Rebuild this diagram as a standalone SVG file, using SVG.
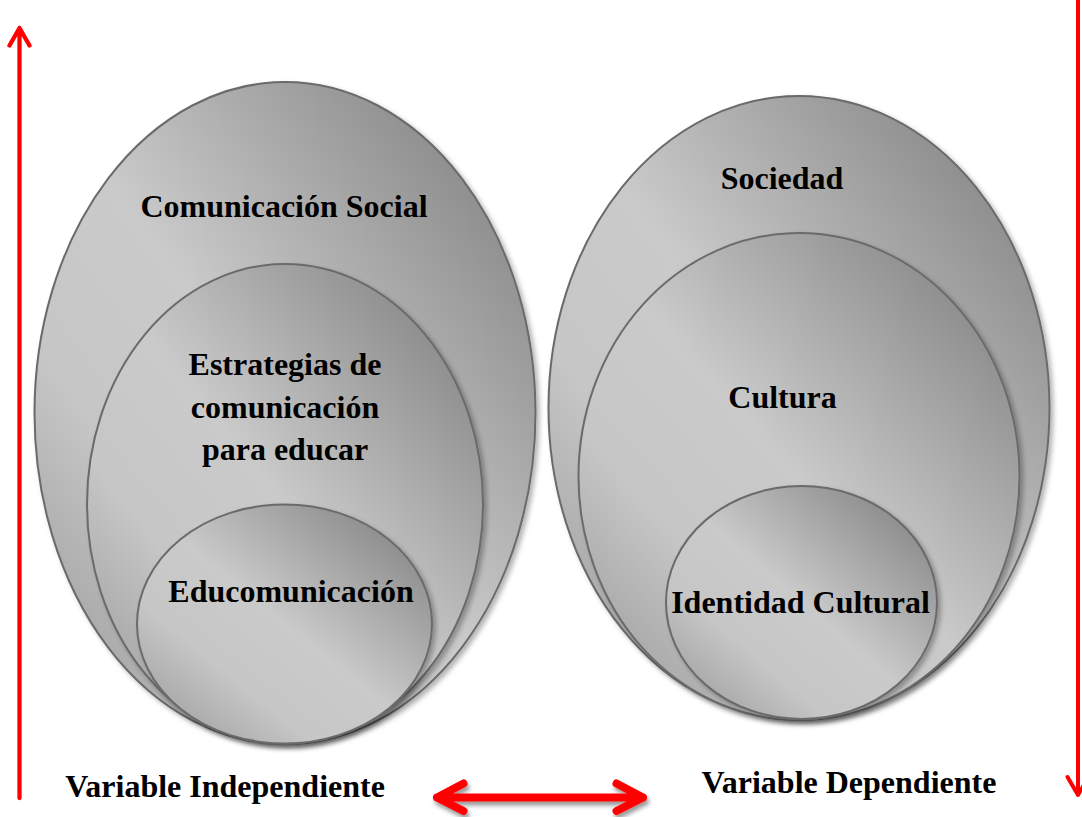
<svg xmlns="http://www.w3.org/2000/svg" width="1082" height="817" viewBox="0 0 1082 817">
<defs>
<linearGradient id="g" x1="0" y1="1" x2="1" y2="0">
<stop offset="0" stop-color="#949494"/>
<stop offset="0.3" stop-color="#c6c6c6"/>
<stop offset="0.5" stop-color="#cacaca"/>
<stop offset="1" stop-color="#787878"/>
</linearGradient>
<filter id="sh" x="-10%" y="-10%" width="125%" height="125%">
<feDropShadow dx="3" dy="3" stdDeviation="2.5" flood-color="#000" flood-opacity="0.3"/>
</filter>
<filter id="ash" x="-10%" y="-100%" width="120%" height="300%">
<feDropShadow dx="2" dy="4" stdDeviation="2" flood-color="#000" flood-opacity="0.4"/>
</filter>
</defs>
<style>
.e{fill:url(#g);stroke:#6b6b6b;stroke-width:2;filter:url(#sh)}
.t{font-family:"Liberation Serif","Times New Roman",serif;font-weight:bold;font-size:32px;fill:#000;text-anchor:middle}
.r{fill:none;stroke:#ff0000;stroke-linecap:round;stroke-linejoin:round}
</style>
<g id="left-set">
<g id="comunicacion-social">
<ellipse class="e" cx="285" cy="413" rx="250.5" ry="331"/>
<text class="t" x="284" y="217">Comunicación Social</text>
</g>
<g id="estrategias">
<ellipse class="e" cx="285" cy="504" rx="198" ry="240"/>
<text class="t" x="285" y="375">Estrategias de</text>
<text class="t" x="285" y="418">comunicación</text>
<text class="t" x="285" y="460">para educar</text>
</g>
<g id="educomunicacion">
<ellipse class="e" cx="284.5" cy="624" rx="147.5" ry="119.5"/>
<text class="t" x="291" y="602">Educomunicación</text>
</g>
</g>
<g id="right-set">
<g id="sociedad">
<ellipse class="e" cx="799" cy="408" rx="250.5" ry="312"/>
<text class="t" x="782" y="189">Sociedad</text>
</g>
<g id="cultura">
<ellipse class="e" cx="799" cy="476.5" rx="220.5" ry="243.5"/>
<text class="t" x="782.5" y="408">Cultura</text>
</g>
<g id="identidad-cultural">
<ellipse class="e" cx="801.5" cy="602.5" rx="135.5" ry="116.5"/>
<text class="t" x="800.5" y="613">Identidad Cultural</text>
</g>
</g>
<g id="labels">
<text class="t" x="225" y="797">Variable Independiente</text>
<text class="t" x="849" y="793">Variable Dependiente</text>
</g>
<g id="connectors">
<path class="r" stroke-width="4.3" d="M19.5,798 V28 M9.5,45.5 L19.5,28 L29.5,45.5"/>
<path class="r" stroke-width="4" d="M1078,-2 V795 M1067.5,777 L1078,795 L1088.5,777"/>
<g filter="url(#ash)">
<path class="r" stroke-width="8" d="M437,797.5 H643 M463.5,783.5 L437,797.5 L463.5,811 M616.5,783.5 L643,797.5 L616.5,811"/>
</g>
</g>
</svg>
